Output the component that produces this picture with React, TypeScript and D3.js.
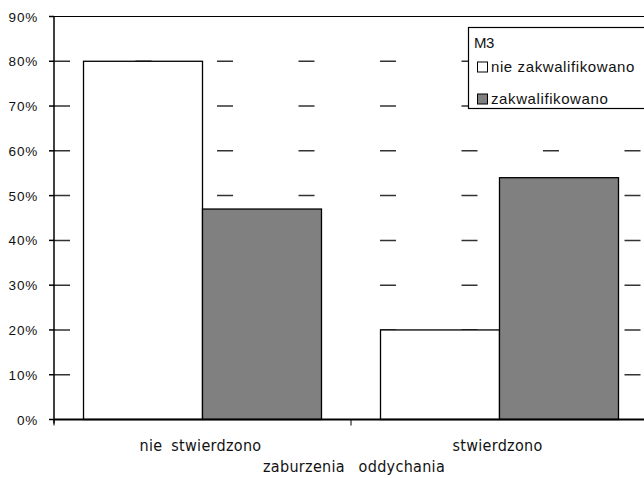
import React from "react";
import * as d3 from "d3";

const categories = ["nie stwierdzono", "stwierdzono"];
const seriesNames = ["nie zakwalifikowano", "zakwalifikowano"];
const seriesColors = ["#ffffff", "#808080"];
const valuesNieZakw = [0.8, 0.2];
const valuesZakw = [0.47, 0.54];
const yTicks = [0, 0.1, 0.2, 0.3, 0.4, 0.5, 0.6, 0.7, 0.8, 0.9];
const legendTitle = "M3";
const xTitle = "zaburzenia  oddychania";

const W = 644;
const H = 478;
const left = 54;
const right = 648;
const top = 16.5;
const bottom = 419.5;

export default function App() {
  const series = [valuesNieZakw, valuesZakw];
  const x = d3.scaleBand<string>().domain(categories).range([left, right]).paddingInner(0).paddingOuter(0);
  const xi = d3.scaleBand<string>().domain(seriesNames).range([0, x.bandwidth()]).paddingInner(0).paddingOuter(0.248);
  const y = d3.scaleLinear().domain([0, 0.9]).range([bottom, top]);
  const fmt = d3.format(".0%");
  const sansFont = "'Liberation Sans', Arial, sans-serif";
  const condFont = "'DejaVu Sans Condensed', 'Liberation Sans Narrow', sans-serif";

  return (
    <svg width={W} height={H} style={{ position: "absolute", left: 0, top: 0, background: "#fff" }}>
      <rect x={0} y={0} width={W} height={H} fill="#fff" />
      {/* gridlines */}
      {yTicks.filter((t) => t > 0 && t < 0.9).map((t) => (
        <line key={"g" + t} x1={left} x2={right} y1={y(t)} y2={y(t)} stroke="#333" strokeWidth={1.5} strokeDasharray="16 65.5" />
      ))}
      {/* top border */}
      <line x1={left} x2={right} y1={y(0.9)} y2={y(0.9)} stroke="#000" strokeWidth={1.2} />
      {/* bars */}
      {categories.map((c, ci) =>
        seriesNames.map((s, si) => (
          <rect
            key={c + s}
            x={(x(c) as number) + (xi(s) as number)}
            y={y(series[si][ci])}
            width={xi.bandwidth()}
            height={y(0) - y(series[si][ci])}
            fill={seriesColors[si]}
            stroke="#000"
            strokeWidth={1.3}
          />
        ))
      )}
      {/* y axis */}
      <line x1={left} x2={left} y1={top} y2={bottom + 4} stroke="#000" strokeWidth={1.5} />
      {yTicks.map((t) => (
        <g key={"t" + t}>
          <line x1={left - 5} x2={left} y1={y(t)} y2={y(t)} stroke="#000" strokeWidth={1.5} />
          <text x={38} y={y(t) + 5} textAnchor="end" fontFamily={sansFont} fontSize={13.5} letterSpacing={0.8} fill="#111">
            {fmt(t)}
          </text>
        </g>
      ))}
      {/* x axis */}
      <line x1={left} x2={right} y1={bottom} y2={bottom} stroke="#000" strokeWidth={2} />
      {categories.map((c, ci) => (
        <line key={"xt" + ci} x1={x(c) as number} x2={x(c) as number} y1={bottom} y2={bottom + 6} stroke="#000" strokeWidth={1} />
      ))}
      {categories.map((c) => (
        <text
          key={"xl" + c}
          x={(x(c) as number) + x.bandwidth() / 2 - 2}
          y={451}
          textAnchor="middle"
          fontFamily={condFont}
          fontSize={16}
          letterSpacing={0.3}
          wordSpacing={4}
          fill="#111"
        >
          {c}
        </text>
      ))}
      <text x={354} y={472} textAnchor="middle" fontFamily={condFont} fontSize={16} letterSpacing={0.3} wordSpacing={2} fill="#111" style={{ whiteSpace: "pre" }}>
        {xTitle}
      </text>
      {/* legend */}
      <rect x={468.5} y={27.5} width={200} height={81} fill="#fff" stroke="#000" strokeWidth={1.2} />
      <text x={474} y={47.5} fontFamily={sansFont} fontSize={15} letterSpacing={-0.6} fill="#111">
        {legendTitle}
      </text>
      {seriesNames.map((s, si) => (
        <g key={"lg" + s}>
          <rect x={477.5} y={62 + si * 32} width={10} height={10} fill={seriesColors[si]} stroke="#000" strokeWidth={1} />
          <text x={491} y={72 + si * 31.5} fontFamily={sansFont} fontSize={15} letterSpacing={0.6} fill="#111">
            {s}
          </text>
        </g>
      ))}
    </svg>
  );
}
